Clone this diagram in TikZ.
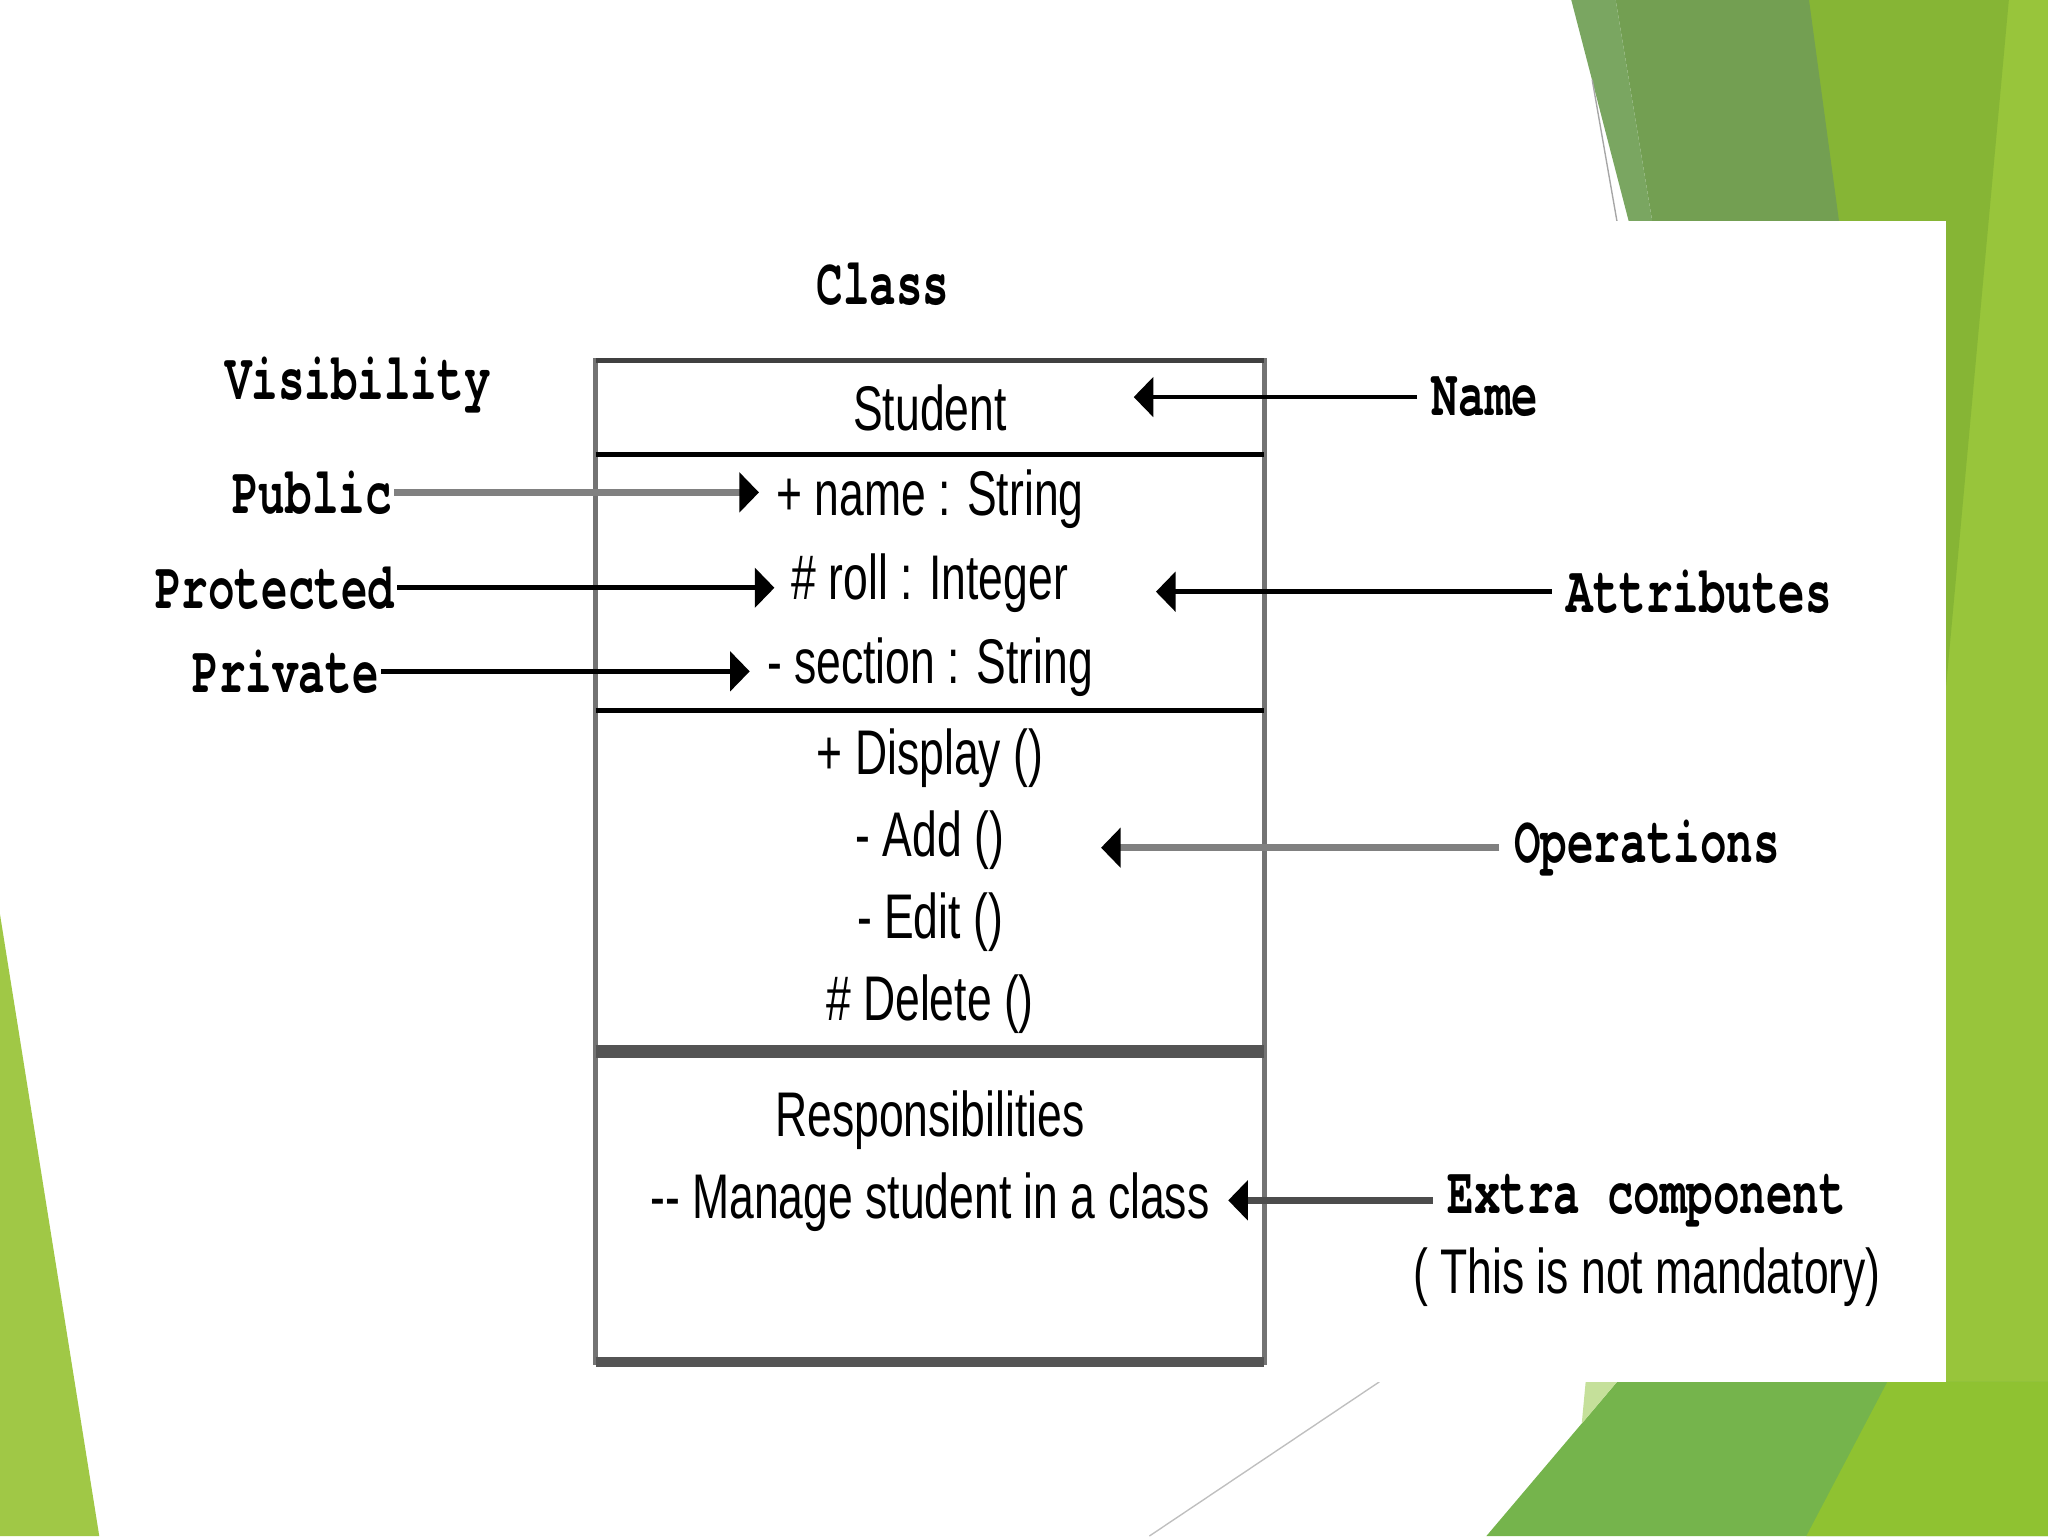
\documentclass[tikz,border=0pt]{standalone}
\usepackage{fontspec}
\usepackage{xcolor}
\usepackage{tikz}
\usetikzlibrary{arrows.meta,positioning}

\newfontfamily\umlfont[FakeStretch=0.705]{Liberation Sans}
\newfontfamily\tagfont[FakeStretch=0.665]{TeX Gyre Cursor}

\definecolor{gA}{HTML}{7AA661}
\definecolor{gB}{HTML}{739F52}
\definecolor{gC}{HTML}{86B535}
\definecolor{gD}{HTML}{98C53B}
\definecolor{gE}{HTML}{75B44C}
\definecolor{gF}{HTML}{8FC231}
\definecolor{gG}{HTML}{A0C846}
\definecolor{gP}{HTML}{C5E09A}

\begin{document}
\begin{tikzpicture}[
  uml/.style={font=\umlfont\fontsize{27.5pt}{35.7pt}\selectfont, inner sep=0pt},
  tag/.style={font=\tagfont\bfseries\fontsize{29pt}{35pt}\selectfont, inner sep=1pt},
  tagr/.style={tag, inner xsep=0.22cm},
  comp/.style={uml, draw=black!55, line width=2pt, outer sep=0pt,
               minimum width=10.24cm, align=center},
  atr/.style={uml, text height=0.72cm, text depth=0.2cm, inner xsep=0.26cm},
  topl/.style={line width=2.4pt, black!75},
  dv/.style={line width=2.2pt, black},
  bar/.style={line width=5.5pt, black!67},
  arr/.style={-{Triangle[length=3mm,width=6mm,color=black]}, line width=2pt},
  arrg/.style={arr, line width=2.9pt, draw=black!50}]

\useasboundingbox (0,0) rectangle (31.36,-23.52);

% 背景:幻灯片的绿色色块,白色面板压在上面
\fill[gD] (29.0,0) rectangle (31.36,-23.52);
\fill[gC] (27.70,0) -- (30.76,0) -- (29.80,-10.50) -- (27.90,-10.50) -- cycle;
\fill[gB] (24.74,0) -- (27.70,0) -- (28.16,-3.39) -- (25.30,-3.39) -- cycle;
\fill[gA] (24.06,0) -- (24.74,0) -- (25.30,-3.39) -- (24.94,-3.39) -- cycle;
\fill[gE] (22.76,-23.52) -- (24.76,-21.16) -- (31.36,-21.16) -- (31.36,-23.52) -- cycle;
\fill[gF] (27.66,-23.52) -- (28.90,-21.16) -- (31.36,-21.16) -- (31.36,-23.52) -- cycle;
\fill[gP] (24.28,-21.16) -- (24.76,-21.16) -- (24.22,-21.80) -- cycle;
\fill[gG] (0,-14.0) -- (1.52,-23.52) -- (0,-23.52) -- cycle;
\draw[black!35, line width=0.6pt] (24.38,-1.22) -- (24.76,-3.39);
\draw[black!25, line width=0.6pt] (21.12,-21.16) -- (17.60,-23.52);
\fill[white] (1.8,-3.39) rectangle (29.80,-21.16);

% 类框:四个分栏自上而下
\node[tag] (cls) at (13.52,-4.36) {Class};
\node[tag] (vis) at (5.48,-5.90) {Visibility};

\node[comp, minimum height=1.44cm, anchor=north west] (cn) at (9.12,-5.52) {Student};
\node[comp, minimum height=3.92cm, below=0pt of cn] (ca) {};
\node[comp, minimum height=5.22cm, below=0pt of ca] (co)
  {+ Display ()\\- Add ()\\- Edit ()\\\# Delete ()};
\node[comp, minimum height=4.76cm, below=0pt of co] (cr) {};

\node[atr] (ar) at (ca) {\# roll : Integer};
\node[atr, above=0.35cm of ar] (an) {+ name : String};
\node[atr, below=0.35cm of ar] (as) {- section : String};
\node[uml, anchor=north, align=center, inner xsep=0.28cm] (rt)
  at ([yshift=-0.6cm]cr.north) {Responsibilities\\-{}- Manage student in a class};

\draw[topl] (cn.north west) -- (cn.north east);
\draw[dv] (cn.south west) -- (cn.south east);
\draw[dv] (ca.south west) -- (ca.south east);
\draw[bar] (co.south west) -- (co.south east);
\draw[bar, line width=4.3pt] (cr.south west) -- (cr.south east);

% 左侧:可见性标注
\node[tag, anchor=east] (pub) at (6.04,-7.54) {Public};
\node[tag, anchor=east] (pro) at (6.08,-9.00) {Protected};
\node[tag, anchor=east] (pri) at (5.84,-10.28) {Private};
\draw[arrg] (pub.east) -- (pub.east -| an.west);
\draw[arr] (pro.east) -- (pro.east -| ar.west);
\draw[arr] (pri.east) -- (pri.east -| as.west);

% 右侧:各分栏说明,箭头终点为命名坐标
\node[tagr, anchor=west] (nm) at (21.70,-6.08) {Name};
\node[tagr, anchor=west] (atl) at (23.76,-9.06) {Attributes};
\node[tagr, anchor=west] (opl) at (22.96,-12.98) {Operations};
\node[tagr, anchor=west] (xl) at (21.94,-18.38) {Extra component};
\node[uml] (nb) at (25.22,-19.56) {( This is not mandatory)};

\coordinate (nmt) at (17.36,-6.08);
\coordinate (att) at (17.70,-9.06);
\coordinate (opt) at (16.86,-12.98);
\draw[arr] (nm.west) -- (nmt);
\draw[arr] (atl.west) -- (att);
\draw[arrg] (opl.west) -- (opt);
\draw[arrg, draw=black!70] (xl.west) -- (xl.west -| rt.east);
\end{tikzpicture}
\end{document}
